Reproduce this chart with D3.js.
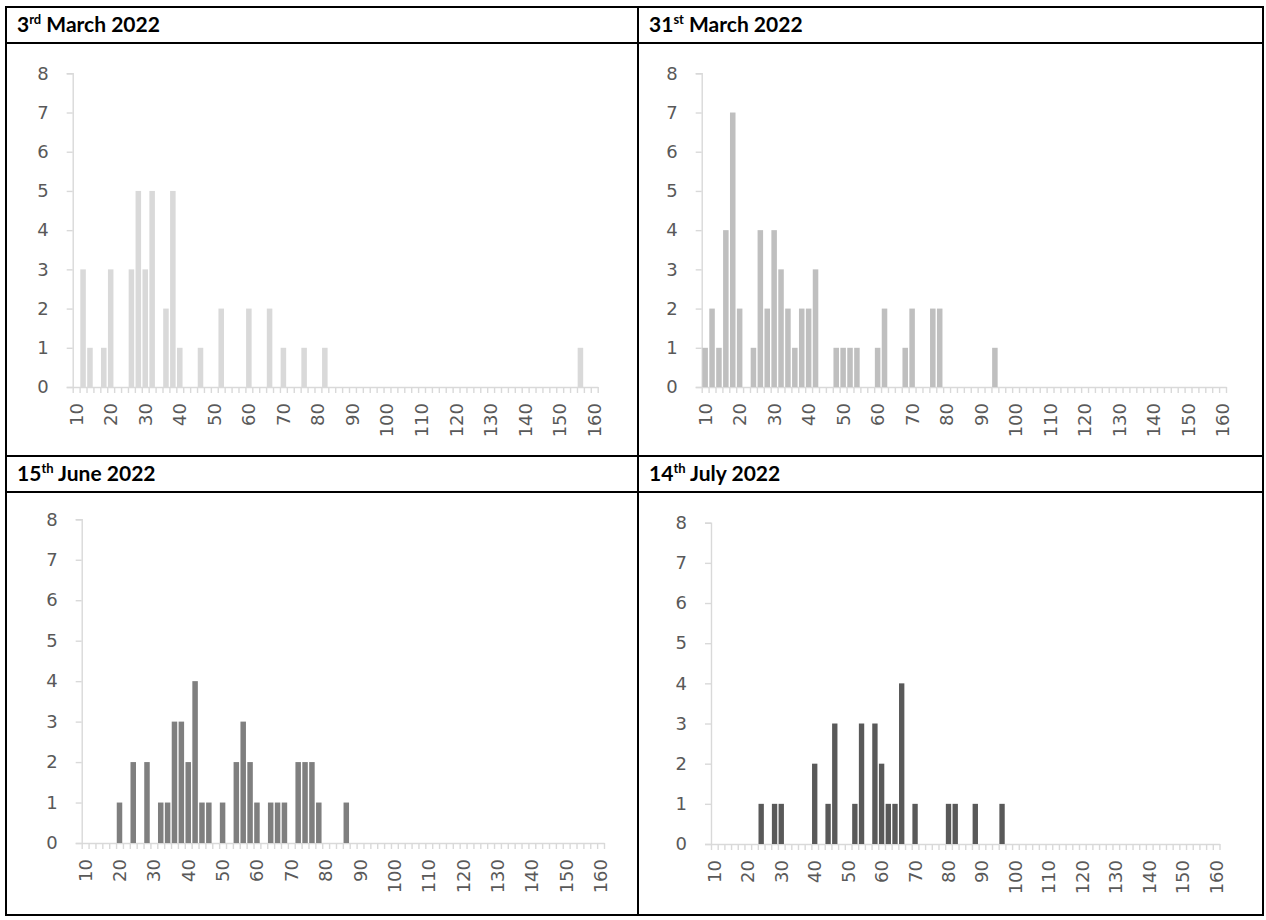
<!DOCTYPE html>
<html>
<head>
<meta charset="utf-8">
<script src="https://cdn.jsdelivr.net/npm/d3@7"></script>
<style>
  body { margin: 0; background: #fff; }
  svg { display: block; }
  .axis text { font-family: "DejaVu Sans", sans-serif; font-size: 18px; fill: #595959; }
  .axis path, .axis line { stroke: #d9d9d9; stroke-width: 1.4; }
  .title { font-family: Lato, sans-serif; font-weight: 700; font-size: 21px; fill: #000; }
  .grid line, .grid rect { stroke: #000; stroke-width: 2; fill: none; }
</style>
</head>
<body>
<svg id="chart" width="1266" height="920"></svg>
<script>
// size classes on the x axis (every 2 units) and the labelled ones
const categories = [10,12,14,16,18,20,22,24,26,28,30,32,34,36,38,40,42,44,46,48,50,52,54,56,58,
  60,62,64,66,68,70,72,74,76,78,80,82,84,86,88,90,92,94,96,98,100,102,104,106,108,110,
  112,114,116,118,120,122,124,126,128,130,132,134,136,138,140,142,144,146,148,150,152,154,156,158,160];
const labelTicks = [10,20,30,40,50,60,70,80,90,100,110,120,130,140,150,160];
const countTicks = [0,1,2,3,4,5,6,7,8];

// [size class, count] per date, empty classes left out
const march3 = [[12,3],[14,1],[18,1],[20,3],[26,3],[28,5],[30,3],[32,5],[36,2],[38,5],[40,1],
  [46,1],[52,2],[60,2],[66,2],[70,1],[76,1],[82,1],[156,1]];
const march31 = [[10,1],[12,2],[14,1],[16,4],[18,7],[20,2],[24,1],[26,4],[28,2],[30,4],[32,3],
  [34,2],[36,1],[38,2],[40,2],[42,3],[48,1],[50,1],[52,1],[54,1],[60,1],[62,2],[68,1],[70,2],
  [76,2],[78,2],[94,1]];
const june15 = [[20,1],[24,2],[28,2],[32,1],[34,1],[36,3],[38,3],[40,2],[42,4],[44,1],[46,1],
  [50,1],[54,2],[56,3],[58,2],[60,1],[64,1],[66,1],[68,1],[72,2],[74,2],[76,2],[78,1],[86,1]];
const july14 = [[24,1],[28,1],[30,1],[40,2],[44,1],[46,3],[52,1],[54,3],[58,3],[60,2],[62,1],
  [64,1],[66,4],[70,1],[80,1],[82,1],[88,1],[96,1]];

// title pieces: number, ordinal suffix, rest
const titles = [["3", "rd", " March 2022"], ["31", "st", " March 2022"],
  ["15", "th", " June 2022"], ["14", "th", " July 2022"]];

const svg = d3.select("#chart");

// table grid
const cols = [6, 638, 1263];
const rows = [7, 456, 915];
const headH = 36;

// plot box inside each cell: left, right, top (8), bottom (0)
const panels = [
  {title: titles[0], data: march3, fill: "#d9d9d9", col: 0, row: 0, box: [66.7, 591.7, 66.3, 380]},
  {title: titles[1], data: march31, fill: "#bfbfbf", col: 1, row: 0, box: [63.7, 588, 66.3, 380]},
  {title: titles[2], data: june15, fill: "#7f7f7f", col: 0, row: 1, box: [75.7, 598, 63.3, 387]},
  {title: titles[3], data: july14, fill: "#595959", col: 1, row: 1, box: [73, 581.5, 66.7, 388]}
];

panels.forEach(p => {
  const g = svg.append("g")
    .attr("transform", `translate(${cols[p.col]},${rows[p.row]})`);
  const [l, r, t, b] = p.box;

  const x = d3.scaleBand().domain(categories).range([l, r])
    .paddingInner(0.2).paddingOuter(0.1);
  const y = d3.scaleLinear().domain([0, 8]).range([b, t]);
  const edges = d3.scaleLinear().domain([0, categories.length]).range([l, r]);

  // header
  const title = g.append("text")
    .attr("class", "title")
    .attr("x", 11)
    .attr("y", 25);
  title.append("tspan").text(p.title[0]);
  title.append("tspan").attr("dy", -8).style("font-size", "13px").text(p.title[1]);
  title.append("tspan").attr("dy", 8).text(p.title[2]);

  // y axis
  g.append("g")
    .attr("class", "axis")
    .attr("transform", `translate(${l},0)`)
    .call(d3.axisLeft(y).tickValues(countTicks).tickSize(6).tickPadding(18));

  // x axis line with a tick between every class
  g.append("g")
    .attr("class", "axis")
    .attr("transform", `translate(0,${b})`)
    .call(d3.axisBottom(edges).tickValues(d3.range(categories.length + 1))
      .tickSize(6).tickSizeOuter(0).tickFormat(""));

  // rotated class labels
  g.append("g")
    .attr("class", "axis")
    .attr("transform", `translate(0,${b})`)
    .call(d3.axisBottom(x).tickValues(labelTicks).tickSize(0))
    .call(a => a.select(".domain").remove())
    .selectAll("text")
    .attr("transform", "rotate(-90)")
    .attr("text-anchor", "end")
    .attr("x", -16)
    .attr("y", 0)
    .attr("dy", "0.36em");

  // bars
  g.selectAll("rect.bar")
    .data(p.data)
    .join("rect")
    .attr("class", "bar")
    .attr("x", d => x(d[0]))
    .attr("y", d => y(d[1]))
    .attr("width", x.bandwidth())
    .attr("height", d => b - y(d[1]))
    .attr("fill", p.fill);
});

// table borders
const grid = svg.append("g").attr("class", "grid");
grid.append("rect")
  .attr("x", cols[0]).attr("y", rows[0])
  .attr("width", cols[2] - cols[0]).attr("height", rows[2] - rows[0]);
grid.append("line")
  .attr("x1", cols[1]).attr("x2", cols[1]).attr("y1", rows[0]).attr("y2", rows[2]);
[rows[1], rows[0] + headH, rows[1] + headH].forEach(yy => {
  grid.append("line")
    .attr("x1", cols[0]).attr("x2", cols[2]).attr("y1", yy).attr("y2", yy);
});
</script>
</body>
</html>
